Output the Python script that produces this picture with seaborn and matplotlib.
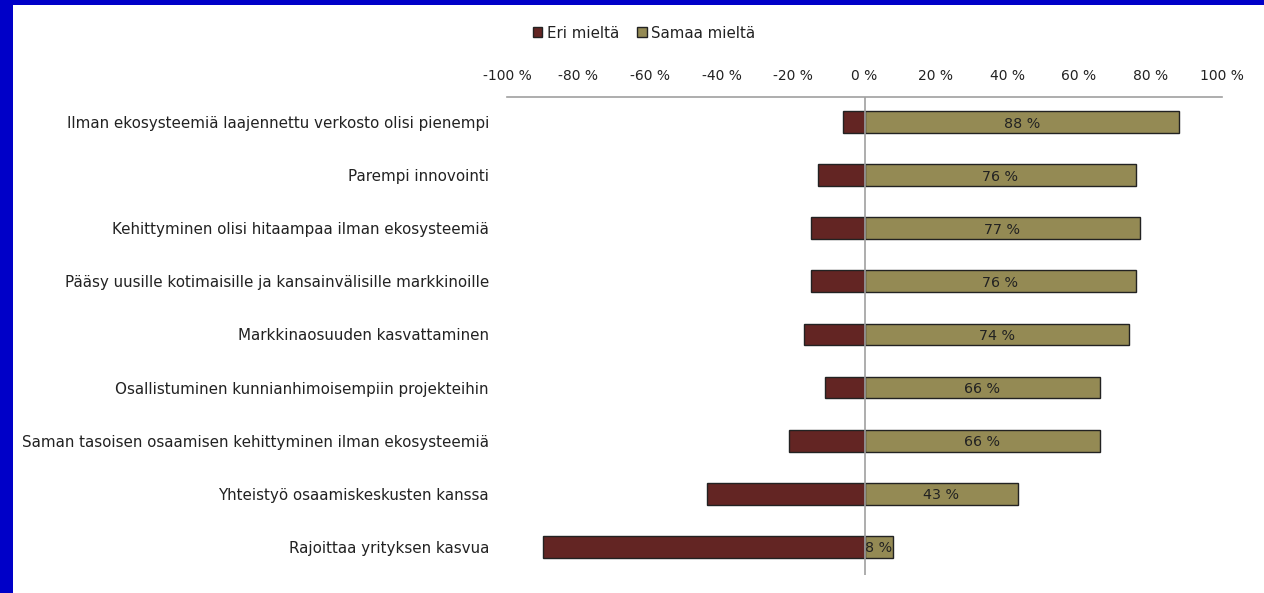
import matplotlib
matplotlib.use("Agg")
import matplotlib.pyplot as plt
import matplotlib.patches as mpatches
import seaborn as sns
import pandas as pd

categories = [
    "Ilman ekosysteemiä laajennettu verkosto olisi pienempi",
    "Parempi innovointi",
    "Kehittyminen olisi hitaampaa ilman ekosysteemiä",
    "Pääsy uusille kotimaisille ja kansainvälisille markkinoille",
    "Markkinaosuuden kasvattaminen",
    "Osallistuminen kunnianhimoisempiin projekteihin",
    "Saman tasoisen osaamisen kehittyminen ilman ekosysteemiä",
    "Yhteistyö osaamiskeskusten kanssa",
    "Rajoittaa yrityksen kasvua",
]
eri_mielta = [-6, -13, -15, -15, -17, -11, -21, -44, -90]
samaa_mielta = [88, 76, 77, 76, 74, 66, 66, 43, 8]
xticks = [-100, -80, -60, -40, -20, 0, 20, 40, 60, 80, 100]
series_names = ["Eri mieltä", "Samaa mieltä"]
colors = ["#632523", "#948A54"]

df = pd.DataFrame({"cat": categories, "eri": eri_mielta, "samaa": samaa_mielta})

sns.set_theme(style="white")
plt.rcParams["font.family"] = ["DejaVu Sans"]

fig = plt.figure(figsize=(12.64, 5.93), dpi=100)
fig.patch.set_facecolor("white")
ax = fig.add_axes([507 / 1264, 1 - 575 / 593, (1222 - 507) / 1264, (575 - 97) / 593])

sns.barplot(data=df, y="cat", x="eri", color=colors[0], orient="h", width=0.41,
            edgecolor="#222222", linewidth=1, saturation=1, ax=ax, zorder=2)
sns.barplot(data=df, y="cat", x="samaa", color=colors[1], orient="h", width=0.41,
            edgecolor="#222222", linewidth=1, saturation=1, ax=ax, zorder=2)

for i, v in enumerate(samaa_mielta):
    ax.text(v / 2, i + 0.03, f"{v} %", ha="center", va="center", fontsize=10.3, color="#222222", zorder=4)

ax.axvline(0, color="#A0A0A0", linewidth=1.2, zorder=3)

ax.set_xlim(-100, 100)
ax.set_ylim(8.53, -0.47)
ax.set_xticks(xticks)
ax.set_xticklabels([f"{t} %" for t in xticks], fontsize=10, color="#222222")
ax.xaxis.tick_top()
ax.tick_params(axis="x", length=0, pad=10)
ax.tick_params(axis="y", length=0, pad=13, labelsize=10.9, labelcolor="#222222")
ax.set_xlabel("")
ax.set_ylabel("")
for s in ["bottom", "left", "right"]:
    ax.spines[s].set_visible(False)
ax.spines["top"].set_color("#A0A0A0")
ax.spines["top"].set_linewidth(1.2)
ax.set_facecolor("white")

handles = [mpatches.Patch(facecolor=c, edgecolor="#222222", linewidth=1, label=n)
           for c, n in zip(colors, series_names)]
fig.legend(handles=handles, loc="center", bbox_to_anchor=(644 / 1264, 1 - 33 / 593), ncol=2,
           frameon=False, fontsize=10.8, handlelength=0.65, handleheight=0.65,
           handletextpad=0.3, columnspacing=1.2, labelcolor="#222222")

# blue frame on left and top
fig.add_artist(mpatches.Rectangle((0, 0), 13 / 1264, 1, transform=fig.transFigure,
                                  facecolor="#0000C8", edgecolor="none"))
fig.add_artist(mpatches.Rectangle((0, 1 - 5 / 593), 1, 5 / 593, transform=fig.transFigure,
                                  facecolor="#0000C8", edgecolor="none"))

fig.savefig("out.png", dpi=100, facecolor="white")
